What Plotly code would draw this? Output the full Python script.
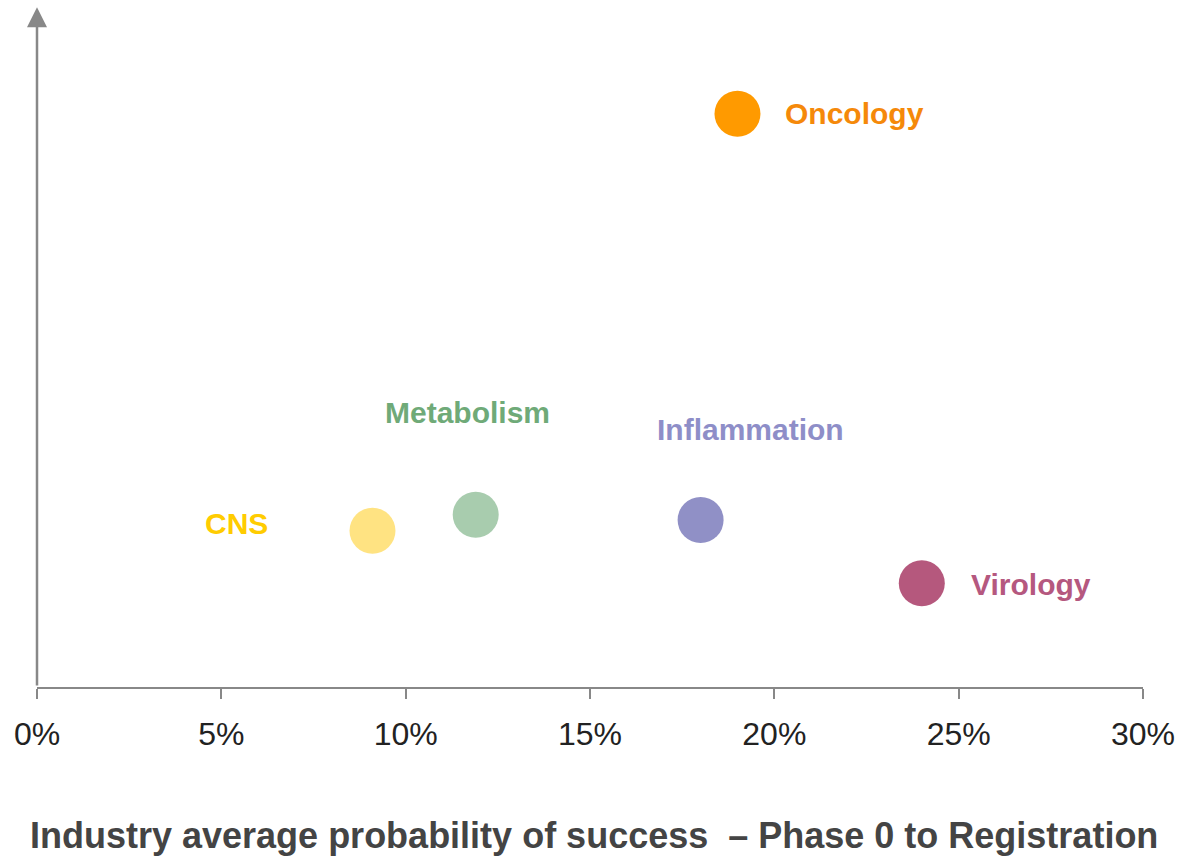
import plotly.graph_objects as go

# Data
areas = ["Oncology", "CNS", "Metabolism", "Inflammation", "Virology"]
pos_pct = [19.0, 9.1, 11.9, 18.0, 24.0]          # x: probability of success (%)
y_level = [86.2, 23.5, 25.9, 25.1, 15.6]          # y: relative position (no scale shown)
x_ticks = [0, 5, 10, 15, 20, 25, 30]
x_tick_labels = ["0%", "5%", "10%", "15%", "20%", "25%", "30%"]

# Styles
marker_colors = ["#FF9A00", "#FFE382", "#A8CCAE", "#9090C6", "#B5587D"]
label_colors = ["#F5890A", "#FFCC00", "#6FAA78", "#8E8EC8", "#B5587F"]
# label placement: (xanchor, xshift px, yshift px)
label_place = [("left", 46, 0), ("right", -102, 7), ("center", -8, 102),
               ("center", 50, 91), ("left", 47, -1)]

fig = go.Figure()
fig.add_trace(go.Scatter(
    x=pos_pct, y=y_level, mode="markers",
    marker=dict(size=46, color=marker_colors, line=dict(width=0)),
    hoverinfo="text", text=areas, showlegend=False,
))

annotations = []
for name, xv, yv, col, (xa, xs, ys) in zip(areas, pos_pct, y_level, label_colors, label_place):
    annotations.append(dict(
        x=xv, y=yv, xref="x", yref="y", text="<b>%s</b>" % name, showarrow=False,
        xanchor=xa, yanchor="middle", xshift=xs, yshift=ys,
        font=dict(family="Liberation Sans, Arial, sans-serif", size=30, color=col),
    ))

# y-axis drawn as an arrow
annotations.append(dict(
    x=0, y=1.022, xref="x domain", yref="y domain", ax=0, ay=0,
    axref="x domain", ayref="y domain",
    showarrow=True, arrowhead=2, arrowsize=1.6, arrowwidth=2.5, arrowcolor="#888888", text="",
))

# x-axis title
annotations.append(dict(
    x=0.5036, y=-0.2226, xref="paper", yref="paper", showarrow=False,
    xanchor="center", yanchor="middle",
    text="<b>Industry average probability of success  \u2013 Phase 0 to Registration</b>",
    font=dict(family="Liberation Sans, Arial, sans-serif", size=36, color="#444444"),
))

fig.update_layout(
    width=1182, height=856,
    margin=dict(l=37, r=39, t=22, b=169, autoexpand=False),
    paper_bgcolor="white", plot_bgcolor="white",
    annotations=annotations,
    xaxis=dict(
        range=[0, 30], tickvals=x_ticks, ticktext=x_tick_labels,
        showgrid=False, zeroline=False, showline=True, linecolor="#888888", linewidth=2,
        ticks="outside", ticklen=10, tickwidth=2, tickcolor="#888888",
        tickfont=dict(family="Liberation Sans, Arial, sans-serif", size=32, color="#222222"),
        ticklabelstandoff=8, automargin=False,
    ),
    yaxis=dict(range=[0, 100], visible=False, showgrid=False, zeroline=False),
)

fig.write_html(
    "out.html",
    config={"displayModeBar": False},
    post_script="document.body.style.margin='0';document.body.style.overflow='hidden';",
)
